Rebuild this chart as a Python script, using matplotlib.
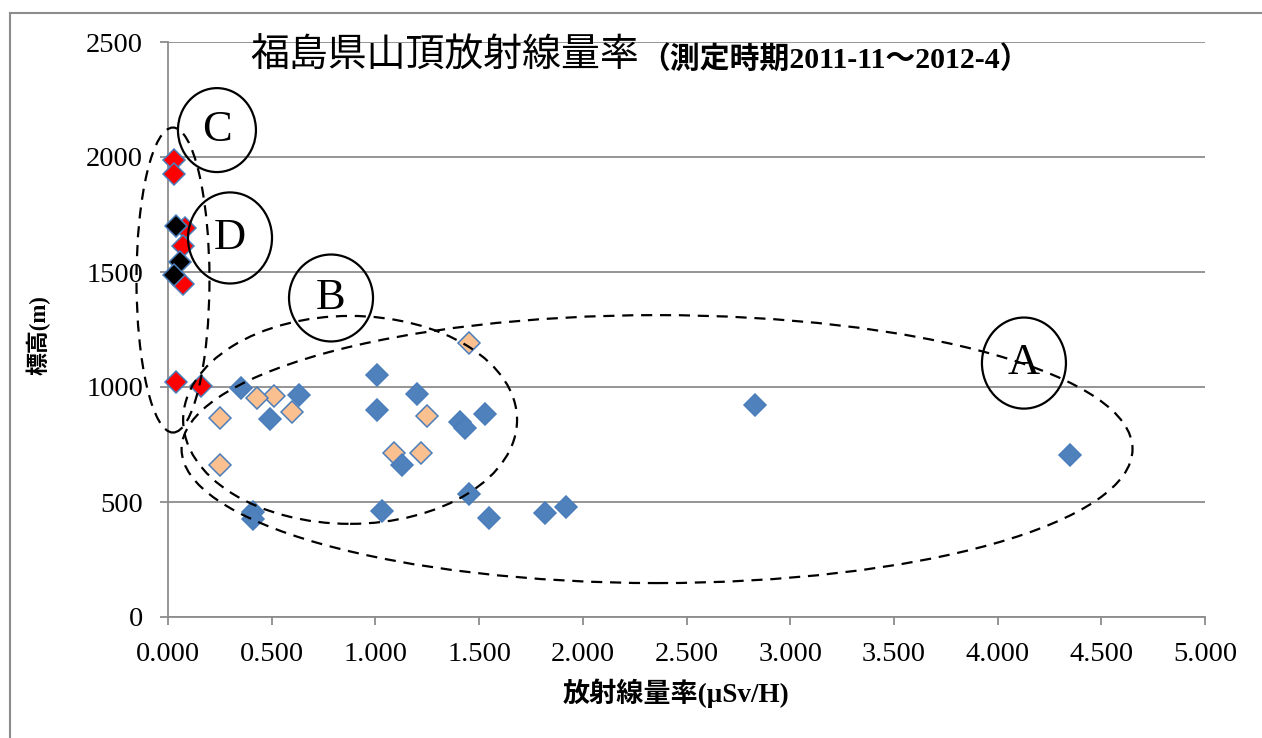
import matplotlib
matplotlib.use("Agg")
import matplotlib.pyplot as plt
from matplotlib.patches import Ellipse
from matplotlib.lines import Line2D

# Summit radiation dose rates, Fukushima (μSv/h vs elevation in m)
blue_x = [4.35, 2.83, 1.92, 1.82, 1.55, 1.53, 1.45, 1.41, 1.43, 1.20, 1.13,
          1.03, 1.01, 1.01, 0.63, 0.49, 0.35, 0.41, 0.41]
blue_y = [705, 920, 478, 452, 430, 882, 533, 846, 822, 968, 662,
          461, 898, 1053, 965, 861, 996, 455, 425]

peach_x = [1.45, 1.25, 1.22, 1.09, 0.60, 0.51, 0.43, 0.25, 0.25]
peach_y = [1190, 875, 712, 712, 893, 963, 953, 865, 660]

red_x = [0.03, 0.03, 0.08, 0.07, 0.07, 0.04, 0.16]
red_y = [1985, 1925, 1690, 1615, 1450, 1020, 1005]

black_x = [0.04, 0.06, 0.03]
black_y = [1700, 1545, 1485]

x_ticks = [0.0, 0.5, 1.0, 1.5, 2.0, 2.5, 3.0, 3.5, 4.0, 4.5, 5.0]
y_ticks = [0, 500, 1000, 1500, 2000, 2500]

title_main = "福島県山頂放射線量率"
title_sub = "（測定時期2011-11～2012-4）"
x_label = "放射線量率(μSv/H)"
y_label = "標高(m)"

FAM = ["Liberation Serif", "Noto Sans CJK JP", "DejaVu Sans"]
plt.rcParams["font.family"] = FAM

GRID = "#8c8c8c"
EDGE = "#4a7ebb"

fig = plt.figure(figsize=(12.62, 7.38), dpi=100)
ax = fig.add_axes([168 / 1262, 121 / 738, 1037 / 1262, 575 / 738])

ax.set_xlim(0, 5)
ax.set_ylim(0, 2500)
ax.set_xticks(x_ticks)
ax.set_xticklabels([f"{v:.3f}" for v in x_ticks])
ax.set_yticks(y_ticks)
ax.set_yticklabels([str(v) for v in y_ticks])
ax.tick_params(axis="both", labelsize=20.5, color=GRID, width=1.3, length=6)
ax.tick_params(axis="x", pad=12)
ax.tick_params(axis="y", pad=12)
ax.grid(axis="y", color=GRID, lw=1.3)
ax.set_axisbelow(True)
for s in ("top", "right"):
    ax.spines[s].set_visible(False)
for s in ("left", "bottom"):
    ax.spines[s].set_color(GRID)
    ax.spines[s].set_linewidth(1.3)

mk = dict(marker="D", linestyle="none", markersize=11.5, markeredgewidth=1.1,
          markeredgecolor=EDGE, clip_on=False)
ax.plot(peach_x, peach_y, markerfacecolor="#fac090", zorder=3, **mk)
ax.plot(blue_x, blue_y, markerfacecolor="#4f81bd", zorder=4, **mk)
ax.plot(red_x, red_y, markerfacecolor="#ff0000", zorder=5, **mk)
ax.plot(black_x, black_y, markerfacecolor="#000000", zorder=6, **mk)

# Grouping outlines (dashed) and labelled circles
dash = dict(fill=False, edgecolor="black", lw=1.6, linestyle=(0, (5, 3.5)),
            clip_on=False, zorder=7)
ax.add_patch(Ellipse((2.358, 730), 4.585, 1165, **dash))
ax.add_patch(Ellipse((0.878, 857), 1.610, 904, **dash))
ax.add_patch(Ellipse((0.024, 1465), 0.352, 1326, **dash))

circ = dict(fill=False, edgecolor="black", lw=1.6, clip_on=False, zorder=7)
labels = [("C", 0.236, 2117, 0.376, 365),
          ("D", 0.299, 1648, 0.405, 396),
          ("B", 0.786, 1387, 0.405, 378),
          ("A", 4.127, 1104, 0.405, 396)]
for txt, cx, cy, w, h in labels:
    ax.add_patch(Ellipse((cx, cy), w, h, **circ))
    ax.text(cx, cy, txt, ha="center", va="center", fontsize=32,
            family=FAM, zorder=8)

fig.text(250 / 1262, 1 - 57 / 738, title_main, ha="left", va="center",
         fontsize=28, family=FAM)
fig.text(640 / 1262, 1 - 59 / 738, title_sub, ha="left", va="center",
         fontsize=21.5, family=FAM, fontweight="bold")

fig.text(676 / 1262, 1 - 693 / 738, x_label, ha="center", va="center",
         fontsize=19.5, family=FAM, fontweight="bold")
fig.text(38 / 1262, 1 - 335 / 738, y_label, ha="center", va="center",
         rotation=90, fontsize=16.5, family=FAM, fontweight="bold")

# Outer chart frame
fx = 10 / 1262
fy = 1 - 13 / 738
fig.add_artist(Line2D([fx, 1.01], [fy, fy], color=GRID, lw=1.5))
fig.add_artist(Line2D([fx, fx], [fy, -0.01], color=GRID, lw=1.5))

fig.savefig("out.png", dpi=100)
